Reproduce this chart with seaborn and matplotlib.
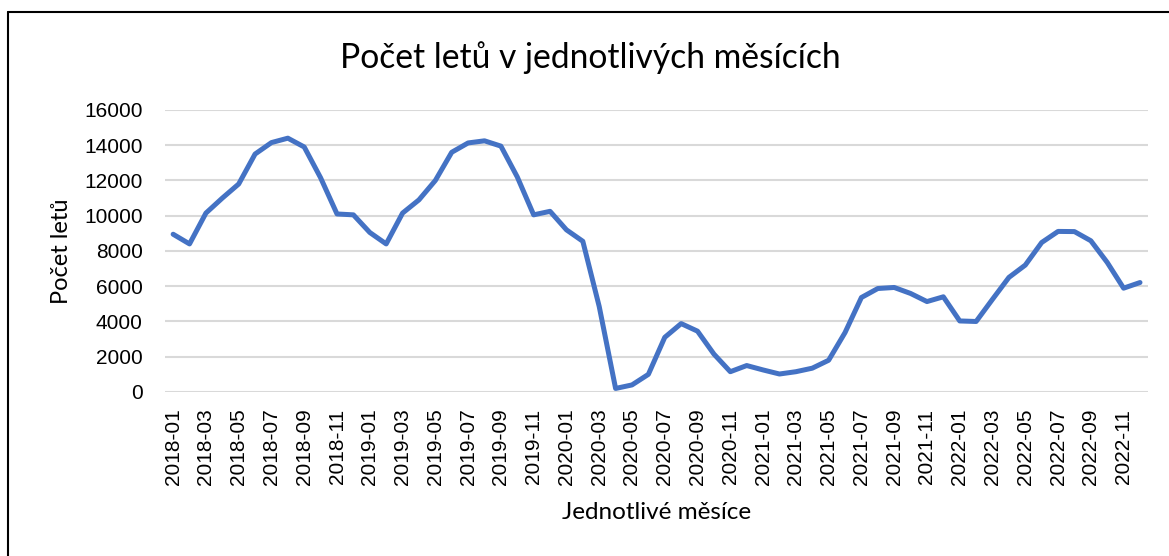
import matplotlib
matplotlib.use("Agg")
import matplotlib.pyplot as plt
import seaborn as sns
import pandas as pd
from matplotlib.lines import Line2D

# Monthly data, 2018-01 .. 2022-12
months = [f"{y}-{m:02d}" for y in range(2018, 2023) for m in range(1, 13)]
flights = [
    8950, 8400, 10150, 11000, 11800, 13500, 14150, 14400, 13900, 12150, 10100, 10050,
    9050, 8400, 10150, 10900, 12000, 13600, 14130, 14250, 13950, 12200, 10050, 10250,
    9200, 8550, 4850, 200, 400, 1000, 3100, 3880, 3450, 2150, 1150, 1500,
    1250, 1020, 1150, 1350, 1800, 3370, 5360, 5870, 5930, 5590, 5130, 5400,
    4030, 4000, 5260, 6500, 7200, 8480, 9110, 9100, 8580, 7350, 5890, 6210,
]

title = "Počet letů v jednotlivých měsících"
xlabel = "Jednotlivé měsíce"
ylabel = "Počet letů"

df = pd.DataFrame({"idx": range(len(months)), "month": months, "flights": flights})

sns.set_theme(style="white")
plt.rcParams["font.family"] = ["Liberation Sans", "DejaVu Sans"]
plt.rcParams["text.color"] = "black"
plt.rcParams["xtick.color"] = "black"
plt.rcParams["ytick.color"] = "black"
label_font = ["Lato", "DejaVu Sans"]

fig = plt.figure(figsize=(11.69, 5.56), dpi=100)
ax = fig.add_axes([0.1411, 0.295, 0.8411, 0.5072])

sns.lineplot(data=df, x="idx", y="flights", ax=ax, color="#4472C4", linewidth=3.6)

ax.set_xlim(-0.5, len(months) - 0.5)
ax.set_ylim(0, 16000)
ax.set_yticks(range(0, 16001, 2000))
ax.set_xticks(df["idx"][::2])
ax.set_xticklabels(df["month"][::2], rotation=90, fontsize=15)
ax.tick_params(axis="y", labelsize=15, pad=16, length=0)
ax.tick_params(axis="x", pad=12, length=0)
ax.grid(axis="y", color="#D9D9D9", linewidth=1.5)
ax.set_axisbelow(True)
for s in ax.spines.values():
    s.set_visible(False)
ax.set_xlabel("")
ax.set_ylabel("")

fig.text(0.505, 0.897, title, ha="center", va="center", fontsize=24.2, family=label_font)
fig.text(0.562, 0.079, xlabel, ha="center", va="center", fontsize=17.5, family=label_font)
fig.text(0.053, 0.549, ylabel, ha="center", va="center", rotation=90, fontsize=17, family=label_font)

# chart border (left and top edge visible in the crop)
fig.add_artist(Line2D([8 / 1169, 8 / 1169], [0, 1 - 12 / 556], transform=fig.transFigure, color="black", linewidth=1.5))
fig.add_artist(Line2D([8 / 1169, 1], [1 - 12 / 556, 1 - 12 / 556], transform=fig.transFigure, color="black", linewidth=1.5))

fig.savefig("out.png", dpi=100)
